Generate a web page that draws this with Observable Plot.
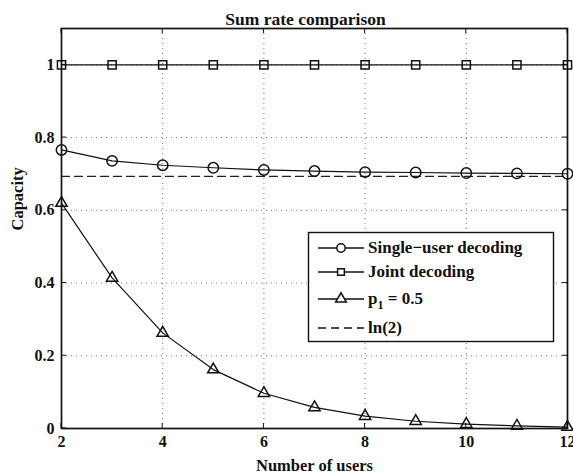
<!DOCTYPE html>
<html>
<head>
<meta charset="utf-8">
<script src="https://cdn.jsdelivr.net/npm/d3@7"></script>
<script src="https://cdn.jsdelivr.net/npm/@observablehq/plot@0.6"></script>
<style>
  html, body { margin: 0; padding: 0; background: #fff; }
</style>
</head>
<body>
<div id="chart"></div>
<script>
const users = [2, 3, 4, 5, 6, 7, 8, 9, 10, 11, 12];
const singleUser = [0.766, 0.736, 0.724, 0.717, 0.711, 0.708, 0.705, 0.704, 0.7025, 0.7016, 0.7006];
const joint = [1, 1, 1, 1, 1, 1, 1, 1, 1, 1, 1];
const p1Half = [0.62, 0.414, 0.263, 0.162, 0.097, 0.058, 0.034, 0.020, 0.012, 0.007, 0.004];
const ln2 = Math.LN2;
const xTicks = [2, 4, 6, 8, 10, 12];
const yTicks = [0, 0.2, 0.4, 0.6, 0.8, 1];
const seriesNames = ["Single\u2212user decoding", "Joint decoding", "p1 = 0.5", "ln(2)"];

const su = users.map((u, i) => ({u, v: singleUser[i]}));
const jd = users.map((u, i) => ({u, v: joint[i]}));
const pp = users.map((u, i) => ({u, v: p1Half[i]}));
const lnLine = [{u: users[0], v: ln2}, {u: users[users.length - 1], v: ln2}];

const FF = "Liberation Serif";
const fmt = d3.format("~g");
const tickFont = {fontFamily: FF, fontWeight: "bold", fontSize: 16};
const labelFont = {fontFamily: FF, fontWeight: "bold", fontSize: 16.5};

const chart = Plot.plot({
  width: 573,
  height: 476,
  marginLeft: 61,
  marginRight: 6,
  marginTop: 28,
  marginBottom: 48,
  style: {fontFamily: FF, fontSize: "16px", fontWeight: "bold", color: "#111", background: "white"},
  x: {domain: [2, 12], ticks: xTicks},
  y: {domain: [0, 1.1], ticks: yTicks},
  marks: [
    Plot.gridX(xTicks, {stroke: "#666", strokeOpacity: 1, strokeDasharray: "1,4", strokeWidth: 0.9}),
    Plot.gridY(yTicks, {stroke: "#666", strokeOpacity: 1, strokeDasharray: "1,4", strokeWidth: 0.9}),
    Plot.axisX(xTicks, {anchor: "bottom", tickSize: 0, tickPadding: 7, tickFormat: fmt, label: null, ...tickFont}),
    Plot.axisY(yTicks, {anchor: "left", tickSize: 0, tickPadding: 7, tickFormat: fmt, label: null, ...tickFont}),
    Plot.line(lnLine, {x: "u", y: "v", stroke: "#222", strokeWidth: 1.3, strokeDasharray: "8,5"}),
    Plot.line(jd, {x: "u", y: "v", stroke: "#111", strokeWidth: 1.2}),
    Plot.line(su, {x: "u", y: "v", stroke: "#111", strokeWidth: 1.2}),
    Plot.line(pp, {x: "u", y: "v", stroke: "#111", strokeWidth: 1.2}),
    Plot.dot(jd, {x: "u", y: "v", symbol: "square", r: 4.6, stroke: "#111", strokeWidth: 1.5, fill: "none"}),
    Plot.dot(su, {x: "u", y: "v", symbol: "circle", r: 5.2, stroke: "#111", strokeWidth: 1.5, fill: "none"}),
    Plot.dot(pp, {x: "u", y: "v", symbol: "triangle", r: 4.2, stroke: "#111", strokeWidth: 1.5, fill: "none"}),
    Plot.frame({stroke: "#111", strokeWidth: 1.7}),
    Plot.text(["Sum rate comparison"], {frameAnchor: "top", dy: -16, dx: -9, text: d => d, ...labelFont, fontSize: 17.5}),
    Plot.text(["Number of users"], {frameAnchor: "bottom", dy: 37, lineAnchor: "middle", text: d => d, ...labelFont}),
    Plot.text(["Capacity"], {frameAnchor: "left", dx: -44, dy: 2, rotate: -90, text: d => d, ...labelFont})
  ]
});

const svg = d3.select(chart);
const x = chart.scale("x"), y = chart.scale("y");

// MATLAB-style inward ticks on all four sides
const tk = svg.append("g").attr("stroke", "#111").attr("stroke-width", 1);
const [x0, x1] = x.range, [y0, y1] = y.range;
xTicks.forEach(t => {
  const px = x.apply(t);
  tk.append("line").attr("x1", px).attr("x2", px).attr("y1", y0).attr("y2", y0 - 5);
  tk.append("line").attr("x1", px).attr("x2", px).attr("y1", y1).attr("y2", y1 + 5);
});
yTicks.forEach(t => {
  const py = y.apply(t);
  tk.append("line").attr("x1", x0).attr("x2", x0 + 5).attr("y1", py).attr("y2", py);
  tk.append("line").attr("x1", x1).attr("x2", x1 - 5).attr("y1", py).attr("y2", py);
});

// Legend (MATLAB-style box)
const lg = svg.append("g").attr("font-family", FF).attr("font-weight", "bold").attr("font-size", 17).attr("text-anchor", "start");
lg.append("rect").attr("x", 308.5).attr("y", 232.5).attr("width", 245).attr("height", 109)
  .attr("fill", "white").attr("stroke", "#111").attr("stroke-width", 1.4);
const rows = [248, 272, 299, 328];
const syms = [d3.symbolCircle, d3.symbolSquare, d3.symbolTriangle, null];
const rs = [4.2, 3.8, 4];
seriesNames.forEach((name, i) => {
  const yy = rows[i];
  lg.append("line").attr("x1", 318).attr("x2", 364).attr("y1", yy).attr("y2", yy)
    .attr("stroke", "#111").attr("stroke-width", 1.3)
    .attr("stroke-dasharray", i === 3 ? "8,5" : null);
  if (syms[i]) {
    lg.append("path").attr("d", d3.symbol(syms[i], rs[i] * rs[i] * Math.PI)())
      .attr("transform", `translate(341,${yy})`).attr("fill", "white").attr("stroke", "#111").attr("stroke-width", 1.5);
  }
  const t = lg.append("text").attr("x", 368).attr("y", yy).attr("dy", "0.32em").attr("fill", "#111").attr("text-anchor", "start");
  if (i === 2) {
    t.append("tspan").text("p");
    t.append("tspan").attr("font-size", 12).attr("dy", "5").text("1");
    t.append("tspan").attr("dy", "-5").text(" = 0.5");
  } else {
    t.text(name);
  }
});

document.getElementById("chart").appendChild(chart);
</script>
</body>
</html>
